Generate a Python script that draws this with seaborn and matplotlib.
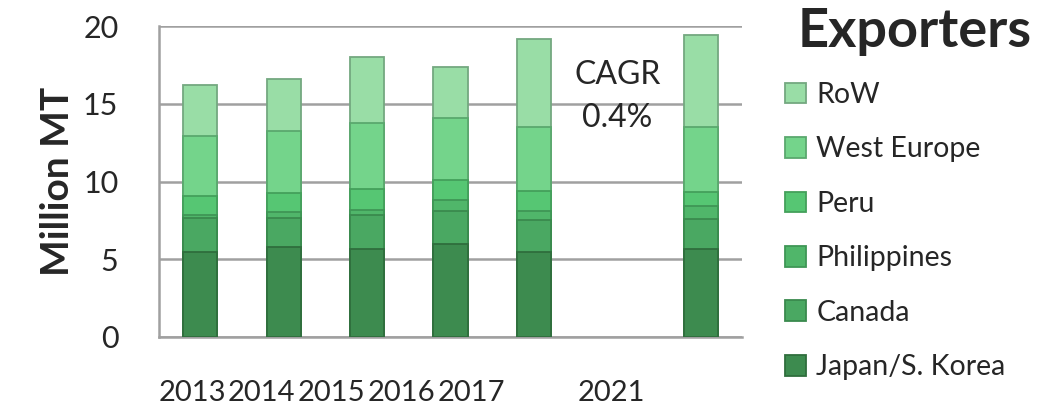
"""Stacked bar chart of exporters (Million MT), 2013-2017 and 2021."""
import matplotlib
matplotlib.use('Agg')
import numpy as np
import pandas as pd
import matplotlib.pyplot as plt
import seaborn as sns
from matplotlib.patches import Patch

# --- Data ---
years = ['2013', '2014', '2015', '2016', '2017', '2021']
slots = ['2013', '2014', '2015', '2016', '2017', ' ', '2021']   # empty slot before 2021
regions = ['Japan/S. Korea', 'Canada', 'Philippines', 'Peru', 'West Europe', 'RoW']
japan = [5.50, 5.77, 5.66, 5.98, 5.45, 5.66]
canada = [2.14, 1.86, 2.19, 2.14, 2.07, 1.93]
philippines = [0.22, 0.39, 0.32, 0.69, 0.60, 0.85]
peru = [1.22, 1.22, 1.33, 1.29, 1.29, 0.91]
west_europe = [3.86, 4.03, 4.28, 3.96, 4.11, 4.17]
row = [3.26, 3.33, 4.22, 3.32, 5.68, 5.90]

colors = ['#3d8b4f', '#4aa862', '#50b66a', '#56c673', '#74d48b', '#99dda6']
edges = ['#2f6e3d', '#3a8a4e', '#3f9656', '#44a05b', '#5aa86e', '#74a880']

FONT = ['Lato', 'DejaVu Sans']
GRID = '#a0a0a0'

df = pd.DataFrame({'year': years, 'Japan/S. Korea': japan, 'Canada': canada,
                   'Philippines': philippines, 'Peru': peru,
                   'West Europe': west_europe, 'RoW': row})
cum = df[regions].cumsum(axis=1)
cum['year'] = df['year']

sns.set_style('white')
plt.rcParams['font.family'] = FONT

fig = plt.figure(figsize=(10.37, 4.15), dpi=100)
ax = fig.add_axes([0.153, 0.188, 0.563, 0.749])

# draw cumulative totals from the top layer down so each layer shows its own band
for reg, c, ec in reversed(list(zip(regions, colors, edges))):
    sns.barplot(data=cum, x='year', y=reg, order=slots, color=c, width=0.41,
                edgecolor=ec, linewidth=1.3, saturation=1, ax=ax, zorder=3)

ax.set_xlim(-0.5, 6.5)
ax.set_ylim(0, 20)
ax.set_yticks([0, 5, 10, 15, 20])
ax.yaxis.grid(True, color=GRID, linewidth=1.8, zorder=0)
ax.set_axisbelow(True)
for s in ['top', 'right']:
    ax.spines[s].set_visible(False)
for s in ['left', 'bottom']:
    ax.spines[s].set_color(GRID)
    ax.spines[s].set_linewidth(1.8)

# year labels sit slightly compressed to the left, as in the reference
label_pos = [0.837 * k - 0.1 for k in [0, 1, 2, 3, 4, 6]]
ax.set_xticks(label_pos)
ax.set_xticklabels(years, fontsize=21)
ax.set_xticks(np.arange(-0.5, 7, 1), minor=True)
ax.tick_params(axis='x', which='major', length=0, pad=31)
ax.tick_params(axis='x', which='minor', length=10, width=1.8, color=GRID)
ax.tick_params(axis='y', length=10, width=1.8, color=GRID, labelsize=22, pad=19)
ax.set_xlabel('')
ax.set_ylabel('Million MT', fontsize=28, fontweight='bold', labelpad=6)

ax.text(5.0, 15.45, 'CAGR\n0.4%', ha='center', va='center', fontsize=23,
        linespacing=1.55, zorder=5)

fig.text(0.995, 0.925, 'Exporters', ha='right', va='center', fontsize=39,
         fontweight='bold')

handles = [Patch(facecolor=c, edgecolor=ec, linewidth=1.3, label=r)
           for r, c, ec in zip(regions, colors, edges)][::-1]
fig.legend(handles=handles, loc='upper left', bbox_to_anchor=(0.746, 0.83),
           frameon=False, fontsize=20.5, handlelength=0.75, handleheight=0.75,
           handletextpad=0.35, labelspacing=1.0, borderaxespad=0)

fig.savefig('out.png', dpi=100)
plt.close(fig)
print('Saved: out.png')
